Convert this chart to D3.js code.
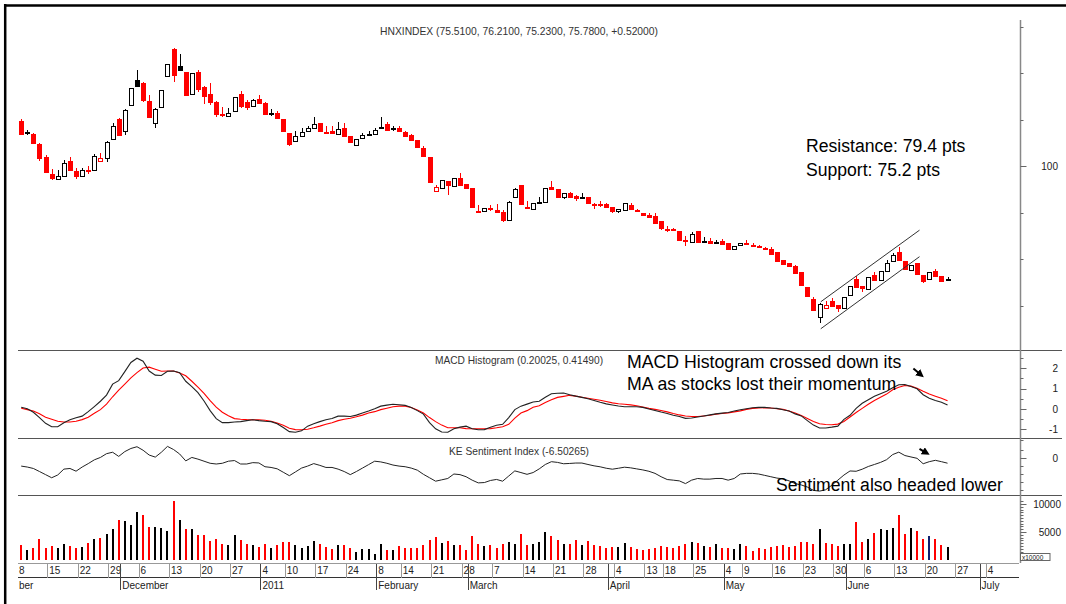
<!DOCTYPE html>
<html>
<head>
<meta charset="utf-8">
<style>
  body { margin: 0; background: #fff; }
  svg { display: block; }
  text { font-family: "Liberation Sans", Arial, sans-serif; }
</style>
</head>
<body>
<svg width="1066" height="604"></svg>
<script src="https://d3js.org/d3.v7.min.js"></script>
<script>

//START: data (one entry per trading day, 8 Nov 2010 .. 23 Jun 2011)
const open = [109.7,107.2,106.9,104.7,101.9,98.3,97.3,97.7,101.1,99.0,
  97.9,99.1,99.1,101.1,101.7,105.6,110.2,107.4,113.1,118.5,
  117.9,114.0,109.2,112.6,119.4,125.2,121.4,120.3,115.4,120.3,
  116.9,115.4,113.8,111.2,110.9,111.7,115.4,113.8,113.1,114.4,
  113.6,111.3,111.3,110.1,107.2,105.4,106.5,107.4,108.1,109.2,
  107.4,107.5,106.9,108.2,106.5,104.5,106.1,106.8,106.9,108.1,
  109.0,108.0,108.2,107.4,106.7,105.6,103.9,102.0,94.5,95.2,
  96.8,95.7,97.4,96.1,95.2,90.3,90.2,90.9,90.5,90.2,
  88.4,93.3,95.9,91.2,90.9,92.2,92.3,95.5,95.1,93.3,
  94.3,93.5,93.2,93.3,91.8,91.8,91.8,91.1,90.2,90.5,
  91.6,90.5,90.0,89.5,89.3,88.2,86.5,86.4,86.1,84.1,
  83.7,86.0,83.6,83.9,83.5,83.9,83.4,82.3,83.0,83.5,
  83.1,82.9,82.4,82.1,81.6,79.8,79.2,78.5,77.3,73.9,
  71.4,67.5,69.5,71.0,70.1,69.4,72.3,75.7,74.2,73.7,
  76.6,75.5,77.5,79.6,81.4,79.6,77.6,79.2,76.6,75.6,
  77.5,76.3,75.51];
const high = [110.1,107.7,107.2,104.9,102.4,99.3,99.1,101.3,101.9,99.6,
  99.6,99.9,102.6,102.7,105.4,109.2,110.4,112.3,116.7,120.6,
  118.1,115.3,112.5,116.3,121.9,125.3,124.1,120.3,119.9,120.6,
  117.1,117.8,114.0,112.6,112.4,114.8,116.1,114.2,114.5,115.3,
  113.8,112.2,111.8,110.1,107.2,107.5,108.2,108.5,110.5,109.2,
  108.5,108.5,109.5,109.2,106.5,105.7,107.1,107.6,108.1,110.6,
  109.5,108.5,108.7,107.6,106.9,105.6,104.2,102.0,95.9,97.0,
  96.8,97.5,98.6,96.1,95.2,91.6,90.9,91.6,91.8,90.5,
  92.5,95.2,95.9,92.5,92.1,93.3,95.3,96.8,95.1,94.1,
  94.5,93.8,94.1,93.3,92.1,92.5,92.0,91.1,90.7,92.0,
  92.1,90.8,90.0,90.0,89.8,88.2,87.1,86.7,86.1,84.9,
  85.9,86.0,84.8,84.5,84.1,84.2,83.4,82.9,83.5,84.1,
  83.4,83.0,82.6,82.5,81.6,79.8,79.2,78.7,77.3,73.9,
  71.8,70.6,71.0,71.6,70.1,71.8,74.2,76.3,74.2,76.2,
  77.3,77.5,79.8,81.2,82.5,79.6,78.7,79.2,76.6,77.1,
  77.8,76.3,76.21];
const low = [106.7,106.7,104.7,101.1,98.5,96.9,97.2,97.6,98.9,97.2,
  97.9,98.3,99.1,101.1,100.9,105.6,106.7,106.7,113.1,117.2,
  113.8,110.3,108.1,112.6,119.1,118.1,120.6,115.4,115.4,116.0,
  113.3,113.1,110.6,110.6,110.9,111.6,112.5,112.0,112.8,113.5,
  111.3,110.8,110.2,107.5,104.4,105.4,106.5,107.3,108.1,107.5,
  106.9,107.0,106.9,106.5,105.2,104.5,106.1,106.7,106.9,108.1,
  107.7,107.5,107.3,106.2,105.4,103.9,102.2,96.6,94.4,95.2,
  93.8,95.7,95.9,95.1,91.1,90.0,90.1,90.4,90.0,88.0,
  88.4,93.1,91.6,90.8,90.9,91.8,92.3,95.0,93.4,92.8,
  93.3,92.5,93.2,92.0,90.8,91.1,91.1,90.0,90.0,90.5,
  90.7,90.1,89.5,89.0,87.8,86.2,85.9,86.2,84.2,82.9,
  83.7,83.7,83.6,83.4,83.2,83.2,82.1,82.3,83.0,83.0,
  82.8,82.6,82.1,81.1,79.4,78.9,78.5,76.9,74.4,71.9,
  69.0,66.2,69.5,69.9,68.7,69.4,72.3,73.9,72.8,73.7,
  75.6,75.3,77.5,79.6,79.6,77.8,77.6,76.8,74.8,75.6,
  76.4,75.3,75.23];
const close = [106.9,107.3,104.9,101.7,98.6,97.4,97.9,100.6,99.1,97.9,
  99.1,99.0,102.2,101.7,105.2,108.5,106.7,112.0,116.7,117.2,
  114.2,110.5,112.2,116.3,121.9,119.6,120.6,115.4,119.9,116.7,
  114.9,113.6,111.2,111.1,111.5,114.8,112.9,112.8,114.3,113.5,
  111.3,111.4,110.2,107.5,104.9,106.5,107.4,108.1,109.0,107.5,
  107.3,107.0,107.9,106.5,105.2,105.7,106.7,106.9,107.7,108.3,
  107.7,108.1,107.5,106.5,105.6,104.0,102.2,96.6,95.4,97.0,
  95.9,97.5,95.9,95.2,91.1,90.2,90.9,90.8,90.0,88.4,
  92.3,95.0,91.8,91.1,92.1,92.3,95.3,95.0,93.4,94.1,
  93.4,93.1,93.3,92.0,91.7,91.6,91.1,90.2,90.7,92.0,
  90.7,90.4,89.5,89.1,87.8,86.6,86.4,86.3,84.2,84.0,
  85.4,83.7,83.8,83.4,83.6,83.2,82.1,82.9,83.5,83.4,
  83.0,82.8,82.1,81.1,79.6,78.9,78.5,76.9,74.4,71.9,
  69.0,70.3,70.2,69.9,69.5,71.8,74.2,73.9,73.7,76.2,
  75.6,77.5,79.2,80.9,79.6,77.8,78.7,76.8,75.3,77.1,
  76.4,75.26,75.78];
const volume = [2660,1740,2230,3770,2230,2540,2230,2780,2480,2170,
  2350,2970,3710,4010,4630,5490,7150,7030,6290,8560,
  8010,5860,5980,5800,5120,10470,7210,5610,5610,4510,
  4510,3400,3830,2910,2720,4380,3580,2910,2720,2290,
  2850,2110,2660,3210,3210,2600,2110,2480,3460,2910,
  2410,2050,2600,2600,2230,1490,1920,1980,1120,2910,
  1740,1740,2540,2170,2110,2170,2600,3520,4080,3090,
  3460,2660,2660,1800,4200,2850,2540,2660,2230,2910,
  3280,2850,4690,2660,2780,3160,5050,4320,3650,2910,
  2910,3590,2670,3460,2730,2550,2180,2240,2360,2980,
  2240,1940,1820,1940,2180,2550,2240,2060,2430,2850,
  3280,2980,2550,2360,2850,2120,2180,2000,2790,2550,
  1690,2060,1880,2300,2490,2730,2240,2550,3160,3160,
  2910,5480,2980,2850,2430,2850,2850,6760,3160,3770,
  4750,5540,5360,5780,8040,4560,5720,5110,3710,4260,
  3770,2730,2300];
const macdHist = [0.09,0.01,-0.16,-0.42,-0.70,-0.87,-0.87,-0.67,-0.53,-0.43,
  -0.35,-0.13,0.12,0.38,0.68,1.22,1.39,1.83,2.28,2.49,
  2.34,1.86,1.66,1.64,1.85,1.86,1.78,1.36,1.10,0.80,
  0.39,-0.08,-0.47,-0.67,-0.67,-0.64,-0.62,-0.57,-0.53,-0.57,
  -0.60,-0.62,-0.72,-0.91,-1.11,-1.14,-1.07,-0.84,-0.72,-0.62,
  -0.53,-0.47,-0.35,-0.35,-0.37,-0.30,-0.20,-0.10,0.01,0.14,
  0.19,0.23,0.21,0.18,0.07,-0.08,-0.25,-0.67,-0.97,-1.13,
  -1.14,-0.97,-0.89,-0.84,-0.97,-1.02,-1.01,-0.89,-0.80,-0.75,
  -0.42,-0.03,0.14,0.24,0.34,0.38,0.58,0.75,0.77,0.78,
  0.70,0.63,0.57,0.50,0.42,0.33,0.25,0.20,0.15,0.11,
  0.11,0.11,0.08,0.00,-0.07,-0.15,-0.22,-0.31,-0.37,-0.46,
  -0.44,-0.39,-0.34,-0.29,-0.24,-0.20,-0.17,-0.10,-0.04,0.01,
  0.06,0.08,0.08,0.05,0.03,-0.04,-0.10,-0.24,-0.34,-0.57,
  -0.79,-0.93,-0.93,-0.89,-0.84,-0.51,-0.31,0.03,0.28,0.45,
  0.62,0.75,0.87,1.04,1.19,1.20,1.10,0.99,0.70,0.53,
  0.42,0.33,0.20];
const macdMA = [0.04,-0.03,-0.10,-0.23,-0.40,-0.50,-0.60,-0.64,-0.64,-0.60,
  -0.52,-0.40,-0.21,-0.03,0.24,0.60,0.92,1.22,1.53,1.78,
  2.01,2.05,1.95,1.85,1.86,1.86,1.76,1.63,1.36,1.07,
  0.77,0.41,0.09,-0.16,-0.33,-0.47,-0.50,-0.52,-0.53,-0.53,
  -0.55,-0.60,-0.69,-0.80,-0.94,-1.01,-1.02,-0.99,-0.92,-0.84,
  -0.75,-0.67,-0.57,-0.50,-0.45,-0.38,-0.30,-0.20,-0.13,-0.03,
  0.04,0.11,0.14,0.14,0.07,-0.05,-0.20,-0.42,-0.62,-0.79,
  -0.92,-0.92,-0.92,-0.96,-0.97,-0.97,-0.97,-0.96,-0.92,-0.87,
  -0.75,-0.45,-0.20,-0.08,0.09,0.16,0.32,0.45,0.57,0.62,
  0.67,0.63,0.58,0.53,0.48,0.43,0.37,0.30,0.26,0.23,
  0.20,0.16,0.10,0.03,-0.02,-0.07,-0.14,-0.22,-0.29,-0.34,
  -0.37,-0.37,-0.34,-0.31,-0.25,-0.22,-0.19,-0.14,-0.09,-0.02,
  0.03,0.05,0.06,0.05,0.01,-0.02,-0.10,-0.20,-0.32,-0.46,
  -0.61,-0.72,-0.76,-0.77,-0.74,-0.61,-0.39,-0.17,0.03,0.23,
  0.42,0.58,0.73,0.94,1.07,1.15,1.12,1.02,0.87,0.73,
  0.63,0.53,0.41];
const sentiment = [-10.1,-11.3,-13.1,-16.9,-20.8,-24.7,-21.2,-13.9,-13.1,-16.5,
  -11.3,-7.0,-2.3,0.7,5.4,7.2,2.0,8.0,11.9,14.1,
  9.7,3.7,1.1,7.2,14.5,10.6,5.0,-3.6,0.7,-1.4,
  -4.0,-6.6,-7.5,-6.6,-4.0,-3.2,-7.5,-7.5,-5.8,-6.2,
  -10.9,-11.8,-13.5,-17.8,-22.1,-17.4,-12.6,-10.1,-7.0,-9.2,
  -11.8,-11.8,-13.9,-16.9,-20.8,-16.9,-12.6,-8.3,-4.0,-4.9,
  -6.6,-8.8,-10.1,-10.9,-12.6,-15.2,-20.4,-24.7,-29.0,-27.3,
  -25.6,-20.0,-20.8,-23.4,-27.7,-31.1,-30.7,-28.1,-26.8,-29.0,
  -22.5,-16.1,-18.2,-20.4,-18.2,-13.6,-8.1,-4.6,-5.5,-7.2,
  -6.8,-6.3,-6.3,-8.1,-9.8,-11.0,-12.8,-14.0,-12.8,-11.5,
  -12.3,-13.6,-14.9,-16.6,-19.2,-23.4,-26.9,-27.7,-28.6,-32.0,
  -27.7,-25.6,-26.4,-26.4,-25.6,-25.6,-27.7,-25.6,-20.0,-19.2,
  -19.2,-20.0,-21.7,-23.4,-25.1,-26.0,-28.6,-32.0,-33.7,-36.3,
  -40.5,-41.4,-39.7,-34.1,-27.7,-21.3,-16.2,-16.6,-14.0,-10.6,
  -8.1,-5.5,-2.1,4.3,7.3,3.1,1.3,-0.4,-7.2,-4.6,
  -2.9,-4.6,-6.5];

// x axis labels: trading-day index of each label
const weekLabels = ["8","15","22","29","6","13","20","27","4","10","17","24","8","14","21","28","7","14","21","28","4","13","18","25","4","9","16","23","30","6","13","20","27","4"];
const weekIdx = [0,5,10,15,20,25,30,35,40,44,49,54,59,63,68,73,78,83,88,93,98,103,106,111,116,119,124,129,134,139,144,149,154,159];
// November starts before the first bar, only its tail "ber" shows at the left edge
const monthLabels = ["ber","December","2011","February","March","April","May","June","July"];
const monthIdx = [-5,17,40,59,74,97,116,136,158];

// price channel drawn on the rebound
const channelIdx = [131.2, 147.4];
const channelUpper = [70.8, 86.2];
const channelLower = [65.0, 80.5];
//END: data


//START: scales
const svg = d3.select("svg");
const plotLeft = 18, axisX = 1020.5, sepRight = 1062;

const x = d3.scaleLinear().domain([0, 159]).range([16.7, 985.7]);
const cx = i => x(i) + 4.5;
const px = i => Math.round(cx(i)) + 0.5;

const yPrice = d3.scaleLinear().domain([70, 130]).range([305.5, 26.5]);
const yMacd = d3.scaleLinear().domain([-1, 2]).range([429.4, 368.2]);
const ySent = d3.scaleLinear().domain([-40, 10]).range([490, 450]);
const yVol = d3.scaleLinear().domain([0, 10000]).range([560, 504]);

const idx = d3.range(close.length);
const RED = "#ff0000", BLK = "#000";
const isUp = i => i > 0 && close[i] >= close[i - 1];
const col = i => isUp(i) ? BLK : RED;
//END: scales

svg.append("defs").append("clipPath").attr("id", "plotClip")
  .append("rect").attr("x", plotLeft).attr("y", 0).attr("width", axisX - plotLeft).attr("height", 604);

svg.append("defs").append("marker")
  .attr("id", "arrowHead").attr("viewBox", "0 0 10 10")
  .attr("refX", 5).attr("refY", 5).attr("markerWidth", 4).attr("markerHeight", 4)
  .attr("orient", "auto")
  .append("path").attr("d", "M0,0L10,5L0,10Z").attr("fill", "#000");

// frame
svg.append("line").attr("x1", 4).attr("x2", 1066).attr("y1", 5.5).attr("y2", 5.5)
  .attr("stroke", "#000").attr("stroke-width", 2.5);
svg.append("line").attr("x1", 5.2).attr("x2", 5.2).attr("y1", 4).attr("y2", 604)
  .attr("stroke", "#000").attr("stroke-width", 2.5);

// panel separators
[350.5, 438.5, 495.5].forEach(function(y) {
  svg.append("line").attr("x1", plotLeft).attr("x2", sepRight).attr("y1", y).attr("y2", y)
    .attr("stroke", "#555").attr("stroke-width", 1.2);
});

// right axis
svg.append("line").attr("x1", axisX).attr("x2", axisX).attr("y1", 20).attr("y2", 563)
  .attr("stroke", "#888").attr("stroke-width", 1.5);

function tickMarks(scale, values, len) {
  svg.append("g").selectAll("line").data(values).join("line")
    .attr("x1", axisX).attr("x2", axisX + len)
    .attr("y1", d => Math.round(scale(d)) + 0.5).attr("y2", d => Math.round(scale(d)) + 0.5)
    .attr("stroke", "#666").attr("stroke-width", 1);
}
function tickLabels(scale, values, xr) {
  svg.append("g").selectAll("text").data(values).join("text")
    .attr("x", xr).attr("y", d => scale(d) + 3.5)
    .attr("text-anchor", "end").attr("font-size", 10).attr("fill", "#222")
    .text(d => d);
}

tickMarks(yPrice, [70, 80, 90, 110, 120, 130], 3);
tickMarks(yPrice, [100], 6);
tickLabels(yPrice, [100], 1058);

tickMarks(yMacd, [-1, 0, 1, 2], 6);
tickMarks(yMacd, [-1.5, -0.5, 0.5, 1.5, 2.5], 3);
tickLabels(yMacd, [2, 1, 0, -1], 1058);

tickMarks(ySent, [0], 6);
tickMarks(ySent, [10, -10, -20, -30, -40], 3);
tickLabels(ySent, [0], 1058);

tickMarks(yVol, [5000, 10000], 6);
tickMarks(yVol, d3.range(500, 11000, 500).filter(v => v % 5000), 3);
tickLabels(yVol, [10000, 5000], 1061);

svg.append("rect").attr("x", axisX).attr("y", 553.5).attr("width", 29.5).attr("height", 7)
  .attr("fill", "#fff").attr("stroke", "#666").attr("stroke-width", 1);
svg.append("text").attr("x", axisX + 1.5).attr("y", 559.5).attr("font-size", 6.5).attr("fill", "#222")
  .text("x10000");


//START: price panel
const price = svg.append("g").attr("shape-rendering", "crispEdges");

price.selectAll("line.wick").data(idx).join("line")
  .attr("class", "wick")
  .attr("x1", px).attr("x2", px)
  .attr("y1", i => yPrice(high[i])).attr("y2", i => yPrice(low[i]))
  .attr("stroke", col).attr("stroke-width", 1);

price.selectAll("rect.body").data(idx).join("rect")
  .attr("class", "body")
  .attr("x", i => Math.round(cx(i)) - 2 + 0.5)
  .attr("width", 4)
  .attr("y", i => Math.round(yPrice(Math.max(open[i], close[i]))) + 0.5)
  .attr("height", i => Math.max(0.5, Math.round(Math.abs(yPrice(open[i]) - yPrice(close[i])))))
  .attr("fill", i => close[i] < open[i] ? col(i) : "#fff")
  .attr("stroke", col).attr("stroke-width", 1);

[channelUpper, channelLower].forEach(function(ch) {
  svg.append("line")
    .attr("x1", cx(channelIdx[0])).attr("y1", yPrice(ch[0]))
    .attr("x2", cx(channelIdx[1])).attr("y2", yPrice(ch[1]))
    .attr("stroke", "#333").attr("stroke-width", 1);
});

svg.append("text").attr("x", 519).attr("y", 35).attr("text-anchor", "middle")
  .attr("font-size", 10.3).attr("fill", "#333")
  .text("HNXINDEX (75.5100, 76.2100, 75.2300, 75.7800, +0.52000)");

svg.append("text").attr("x", 806).attr("y", 152).attr("font-size", 17.6).attr("fill", "#000")
  .text("Resistance: 79.4 pts");
svg.append("text").attr("x", 806).attr("y", 176).attr("font-size", 17.6).attr("fill", "#000")
  .text("Support: 75.2 pts");
//END: price panel


//START: MACD panel
const lineOf = (arr, ys) => d3.line().x((d, i) => cx(i)).y(d => ys(d))(arr);

svg.append("path").attr("d", lineOf(macdMA, yMacd))
  .attr("fill", "none").attr("stroke", RED).attr("stroke-width", 1.1);
svg.append("path").attr("d", lineOf(macdHist, yMacd))
  .attr("fill", "none").attr("stroke", "#222").attr("stroke-width", 1.1);

svg.append("text").attr("x", 519).attr("y", 364).attr("text-anchor", "middle")
  .attr("font-size", 10.2).attr("fill", "#333")
  .text("MACD Histogram (0.20025, 0.41490)");

svg.append("text").attr("x", 627).attr("y", 368).attr("font-size", 17.7).attr("fill", "#000")
  .text("MACD Histogram crossed down its");
svg.append("text").attr("x", 627).attr("y", 389.5).attr("font-size", 17.7).attr("fill", "#000")
  .text("MA as stocks lost their momentum");

svg.append("line")
  .attr("x1", cx(146.4)).attr("y1", yMacd(1.98))
  .attr("x2", cx(147.6)).attr("y2", yMacd(1.68))
  .attr("stroke", "#000").attr("stroke-width", 2).attr("marker-end", "url(#arrowHead)");
//END: MACD panel


//START: sentiment panel
svg.append("path").attr("d", lineOf(sentiment, ySent))
  .attr("fill", "none").attr("stroke", "#222").attr("stroke-width", 1);

svg.append("text").attr("x", 519).attr("y", 455).attr("text-anchor", "middle")
  .attr("font-size", 10.2).attr("fill", "#333")
  .text("KE Sentiment Index (-6.50265)");

svg.append("line")
  .attr("x1", cx(147.4)).attr("y1", ySent(11.5))
  .attr("x2", cx(148.5)).attr("y2", ySent(6.5))
  .attr("stroke", "#000").attr("stroke-width", 2).attr("marker-end", "url(#arrowHead)");

svg.append("text").attr("x", 776).attr("y", 491).attr("font-size", 17.6).attr("fill", "#000")
  .text("Sentiment also headed lower");
//END: sentiment panel


//START: volume panel
svg.append("g").attr("shape-rendering", "crispEdges")
  .selectAll("rect").data(idx).join("rect")
  .attr("x", i => Math.round(cx(i)) - 1)
  .attr("width", 2)
  .attr("y", i => yVol(volume[i]))
  .attr("height", i => yVol(0) - yVol(volume[i]))
  .attr("fill", i => i === 149 ? "#102070" : col(i));
//END: volume panel


//START: date axis
const xa = svg.append("g").attr("clip-path", "url(#plotClip)").attr("shape-rendering", "crispEdges");
xa.append("line").attr("x1", plotLeft).attr("x2", axisX - 2).attr("y1", 563.5).attr("y2", 563.5)
  .attr("stroke", "#999");
xa.append("line").attr("x1", plotLeft).attr("x2", axisX - 2).attr("y1", 577.5).attr("y2", 577.5)
  .attr("stroke", "#333");

xa.selectAll("line.wk").data(weekIdx).join("line").attr("class", "wk")
  .attr("x1", d => Math.round(x(d)) + 0.5).attr("x2", d => Math.round(x(d)) + 0.5)
  .attr("y1", 563.5).attr("y2", 577.5).attr("stroke", "#999");
xa.selectAll("text.wk").data(weekIdx).join("text").attr("class", "wk")
  .attr("x", d => Math.max(x(d) + 2, plotLeft + 1)).attr("y", 574)
  .attr("font-size", 10).attr("fill", "#222")
  .text((d, i) => weekLabels[i]);

xa.selectAll("line.mo").data(monthIdx).join("line").attr("class", "mo")
  .attr("x1", d => Math.round(x(d)) + 0.5).attr("x2", d => Math.round(x(d)) + 0.5)
  .attr("y1", 563.5).attr("y2", 590).attr("stroke", "#444");

svg.append("g").selectAll("text.mo").data(monthIdx).join("text").attr("class", "mo")
  .attr("x", d => Math.max(x(d) + 2, plotLeft + 1)).attr("y", 589)
  .attr("font-size", 10).attr("fill", "#222")
  .text((d, i) => monthLabels[i]);
//END: date axis

</script>
</body>
</html>
